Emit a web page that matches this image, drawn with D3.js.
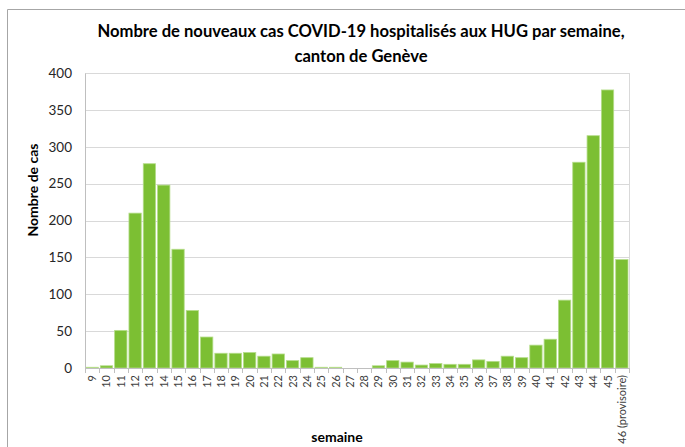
<!DOCTYPE html>
<html>
<head>
<meta charset="utf-8">
<script src="https://cdn.jsdelivr.net/npm/d3@7"></script>
<style>
  body { margin: 0; background: #fff; }
  svg { display: block; font-family: Lato, "Open Sans", sans-serif; }
</style>
</head>
<body>
<div id="chart"></div>
<script>
// semaines and hospitalised cases
const weeks = ["9","10","11","12","13","14","15","16","17","18","19","20","21","22","23","24","25","26","27","28","29","30","31","32","33","34","35","36","37","38","39","40","41","42","43","44","45","46 (provisoire)"];
const cases = [1,3,51,210,277,248,161,78,42,20,20,21,16,19,10,14,1,1,0,0,3,10,8,4,6,5,5,11,9,16,14,31,39,92,279,315,377,147];
const yTicks = [0,50,100,150,200,250,300,350,400];

const W = 685, H = 447;
const margin = {top: 73, right: 56, bottom: 79, left: 85};
const innerW = W - margin.left - margin.right;
const innerH = H - margin.top - margin.bottom;

const svg = d3.select("#chart").append("svg")
    .attr("width", W)
    .attr("height", H);

// outer frame (only top and left edges are visible in the picture)
svg.append("path")
    .attr("d", "M7.5," + H + "V9.5H" + W)
    .attr("fill", "none")
    .attr("stroke", "#a6a6a6");

const g = svg.append("g")
    .attr("transform", "translate(" + margin.left + "," + margin.top + ")");

const x = d3.scaleBand().domain(weeks).range([0, innerW]).paddingInner(0.14).paddingOuter(0.07);
const y = d3.scaleLinear().domain([0, 400]).range([innerH, 0]);

// gridlines
g.selectAll("line.grid")
    .data(yTicks)
    .enter().append("line")
    .attr("class", "grid")
    .attr("x1", 0).attr("x2", innerW)
    .attr("y1", d => Math.round(y(d)) + 0.5)
    .attr("y2", d => Math.round(y(d)) + 0.5)
    .attr("stroke", "#d9d9d9");

// right border of plot area
g.append("line")
    .attr("x1", innerW + 0.5).attr("x2", innerW + 0.5)
    .attr("y1", 0).attr("y2", innerH)
    .attr("stroke", "#d9d9d9");

// bars
g.selectAll("rect.bar")
    .data(cases)
    .enter().append("rect")
    .attr("class", "bar")
    .attr("x", (d, i) => x(weeks[i]))
    .attr("width", x.bandwidth())
    .attr("y", d => y(d))
    .attr("height", d => innerH - y(d))
    .attr("fill", "#7cbf33")
    .attr("stroke", "#b5dd8a")
    .attr("stroke-width", 0.8);

// y axis
const yAxis = g.append("g")
    .call(d3.axisLeft(y).tickValues(yTicks).tickSize(0).tickPadding(13));
yAxis.select(".domain").attr("stroke", "#bfbfbf");
yAxis.selectAll("text")
    .attr("font-size", 13.5)
    .attr("fill", "#262626")
    .attr("font-family", "Lato, sans-serif");

// x axis: ticks at band boundaries
const xg = g.append("g").attr("transform", "translate(0," + innerH + ")");
xg.append("line")
    .attr("x1", 0).attr("x2", innerW)
    .attr("y1", 0.5).attr("y2", 0.5)
    .attr("stroke", "#bfbfbf");
const step = x.step();
const bounds = d3.range(weeks.length + 1).map(i => x(weeks[0]) - x.paddingInner() * step / 2 + i * step);
xg.selectAll("line.tick")
    .data(bounds)
    .enter().append("line")
    .attr("class", "tick")
    .attr("x1", d => Math.round(d) + 0.5).attr("x2", d => Math.round(d) + 0.5)
    .attr("y1", 0).attr("y2", 5)
    .attr("stroke", "#bfbfbf");
xg.selectAll("text")
    .data(weeks)
    .enter().append("text")
    .attr("transform", d => "translate(" + (x(d) + x.bandwidth() / 2 + 4) + ",7) rotate(-90)")
    .attr("text-anchor", "end")
    .attr("font-size", 11)
    .attr("fill", "#404040")
    .text(d => d);

// title
const title = svg.append("text")
    .attr("text-anchor", "middle")
    .attr("font-weight", "bold")
    .attr("font-size", 16.6)
    .attr("fill", "#000");
title.append("tspan").attr("x", 361).attr("y", 37).text("Nombre de nouveaux cas COVID-19 hospitalisés aux HUG par semaine,");
title.append("tspan").attr("x", 361).attr("y", 62).text("canton de Genève");

// axis titles
svg.append("text")
    .attr("transform", "translate(38,190) rotate(-90)")
    .attr("text-anchor", "middle")
    .attr("font-weight", "bold")
    .attr("font-size", 14)
    .text("Nombre de cas");

svg.append("text")
    .attr("x", 337)
    .attr("y", 442)
    .attr("text-anchor", "middle")
    .attr("font-weight", "bold")
    .attr("font-size", 14)
    .text("semaine");
</script>
</body>
</html>
